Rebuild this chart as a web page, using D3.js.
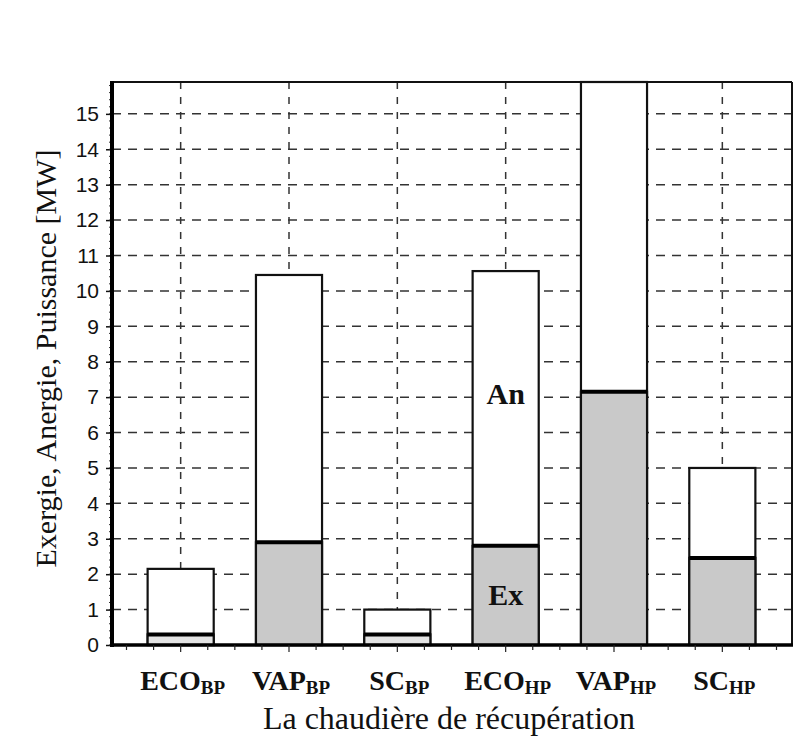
<!DOCTYPE html>
<html>
<head>
<meta charset="utf-8">
<script src="https://cdn.jsdelivr.net/npm/d3@7"></script>
<style>
  html, body { margin: 0; padding: 0; background: #ffffff; }
  svg { display: block; }
</style>
</head>
<body>
<svg id="chart" width="800" height="740"></svg>
<script>
// ---- data ----
const categories = ["ECO", "VAP", "SC", "ECO", "VAP", "SC"];
const subscripts = ["BP", "BP", "BP", "HP", "HP", "HP"];
const exergie = [0.3, 2.9, 0.3, 2.8, 7.15, 2.46];
const puissance = [2.15, 10.45, 1.0, 10.56, 15.9, 5.0];
const yTicks = [0, 1, 2, 3, 4, 5, 6, 7, 8, 9, 10, 11, 12, 13, 14, 15];
const yTitle = "Exergie, Anergie, Puissance [MW]";
const xTitle = "La chaudière de récupération";
const barLabels = [{ text: "An", cat: 3, v: 6.8 }, { text: "Ex", cat: 3, v: 1.12 }];

// ---- layout ----
const L = 112, R = 792, T = 82, B = 645;
const svg = d3.select("#chart");
const keys = categories.map((c, i) => i);

const x = d3.scaleBand().domain(keys).range([126.5, 776.5])
  .paddingInner(0.39).paddingOuter(0.195);
const y = d3.scaleLinear().domain([0, 15.9]).range([B, T]);
const step = x.step(), bw = x.bandwidth();
const cx = i => x(i) + bw / 2;

// horizontal dashed grid
svg.append("g").selectAll("line").data(yTicks.filter(d => d > 0)).join("line")
  .attr("x1", L).attr("x2", R)
  .attr("y1", d => y(d)).attr("y2", d => y(d))
  .attr("stroke", "#333").attr("stroke-width", 1.5)
  .attr("stroke-dasharray", "9,7");

// vertical dashed grid at category centres
svg.append("g").selectAll("line").data(keys).join("line")
  .attr("x1", d => cx(d)).attr("x2", d => cx(d))
  .attr("y1", T).attr("y2", B)
  .attr("stroke", "#333").attr("stroke-width", 1.5)
  .attr("stroke-dasharray", "7,8");

// bars: An (white, full height) then Ex (grey)
const bars = svg.append("g");
bars.selectAll("rect.tot").data(keys).join("rect").attr("class", "tot")
  .attr("x", d => x(d)).attr("width", bw)
  .attr("y", d => y(puissance[d])).attr("height", d => B - y(puissance[d]))
  .attr("fill", "#ffffff").attr("stroke", "#111").attr("stroke-width", 2.2);
bars.selectAll("rect.ex").data(keys).join("rect").attr("class", "ex")
  .attr("x", d => x(d)).attr("width", bw)
  .attr("y", d => y(exergie[d])).attr("height", d => B - y(exergie[d]))
  .attr("fill", d => exergie[d] < 1 ? "#e4e4e4" : "#c9c9c9")
  .attr("stroke", "#111").attr("stroke-width", 2.2);
bars.selectAll("line.exl").data(keys).join("line").attr("class", "exl")
  .attr("x1", d => x(d)).attr("x2", d => x(d) + bw)
  .attr("y1", d => y(exergie[d])).attr("y2", d => y(exergie[d]))
  .attr("stroke", "#000").attr("stroke-width", 4);

// frame top & right
svg.append("line").attr("x1", L).attr("x2", R).attr("y1", T).attr("y2", T)
  .attr("stroke", "#111").attr("stroke-width", 2);
svg.append("line").attr("x1", R).attr("x2", R).attr("y1", T).attr("y2", B)
  .attr("stroke", "#111").attr("stroke-width", 2);

// y axis
const yAxis = d3.axisLeft(y).tickValues(yTicks).tickSize(6).tickPadding(7).tickFormat(d3.format("d"));
const gy = svg.append("g").attr("transform", `translate(${L},0)`).call(yAxis);
gy.select(".domain").remove();
gy.selectAll(".tick line").attr("stroke", "#111").attr("stroke-width", 1.5);
gy.selectAll(".tick text").attr("font-family", "Liberation Sans, Arial, sans-serif")
  .attr("font-size", 21).attr("fill", "#111");
// minor y ticks
const yMinor = d3.range(0, 15.9, 0.2);
svg.append("g").selectAll("line").data(yMinor).join("line")
  .attr("x1", L - 3).attr("x2", L).attr("y1", d => y(d)).attr("y2", d => y(d))
  .attr("stroke", "#333").attr("stroke-width", 1);
svg.append("line").attr("x1", L).attr("x2", L).attr("y1", T - 1).attr("y2", B + 2)
  .attr("stroke", "#000").attr("stroke-width", 4);

// x axis line + ticks
svg.append("line").attr("x1", L - 2).attr("x2", R + 1).attr("y1", B).attr("y2", B)
  .attr("stroke", "#000").attr("stroke-width", 3.5);
const xt = [];
keys.forEach(i => {
  const start = cx(i) - step / 2;
  for (let q = 0; q < 4; q++) xt.push({ pos: start + q * step / 4, major: q === 2 });
});
xt.push({ pos: cx(5) + step / 2, major: false });
svg.append("g").selectAll("line").data(xt).join("line")
  .attr("x1", d => d.pos).attr("x2", d => d.pos)
  .attr("y1", B).attr("y2", d => B + (d.major ? 7 : 5))
  .attr("stroke", "#222").attr("stroke-width", 1.2);

// x category labels with subscripts
const xl = svg.append("g").selectAll("text").data(keys).join("text")
  .attr("x", d => cx(d) + 2).attr("y", 690)
  .attr("text-anchor", "middle")
  .attr("font-family", "Liberation Serif, Times New Roman, serif")
  .attr("font-weight", "bold").attr("font-size", 28).attr("fill", "#111");
xl.append("tspan").text(d => categories[d]);
xl.append("tspan").attr("font-size", 19).attr("dy", 4).text(d => subscripts[d]);

// x title
svg.append("text").attr("x", 449).attr("y", 729).attr("text-anchor", "middle")
  .attr("font-family", "Liberation Serif, Times New Roman, serif")
  .attr("font-size", 32).attr("fill", "#111").text(xTitle);

// y title
svg.append("text").attr("transform", `translate(56,${(T + B) / 2 - 5}) rotate(-90)`)
  .attr("text-anchor", "middle")
  .attr("font-family", "Liberation Serif, Times New Roman, serif")
  .attr("font-size", 30).attr("fill", "#111").text(yTitle);

// An / Ex labels
svg.append("g").selectAll("text").data(barLabels).join("text")
  .attr("x", d => cx(d.cat)).attr("y", d => y(d.v))
  .attr("text-anchor", "middle")
  .attr("font-family", "Liberation Serif, Times New Roman, serif")
  .attr("font-weight", "bold").attr("font-size", 30).attr("fill", "#111")
  .text(d => d.text);
</script>
</body>
</html>
